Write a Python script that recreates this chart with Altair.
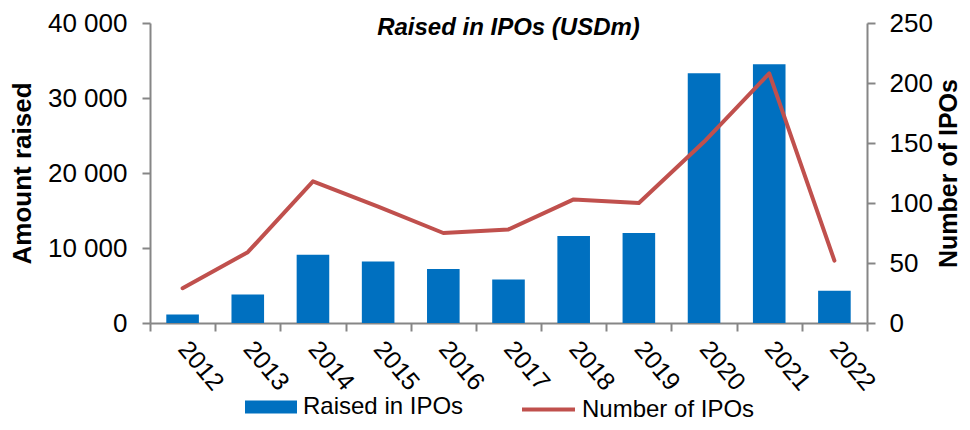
import altair as alt
import pandas as pd

years = ["2012", "2013", "2014", "2015", "2016", "2017", "2018", "2019", "2020", "2021", "2022"]
raised = [1150, 3800, 9100, 8200, 7200, 5800, 11600, 12000, 33300, 34500, 4300]
ipos = [29, 59, 118, 97, 75, 78, 103, 100, 151, 208, 52]

bar_name = "Raised in IPOs"
line_name = "Number of IPOs"
BLUE = "#0070C0"
RED = "#C0504D"
GRAY = "#868686"
FONT = "Liberation Sans"

df = pd.DataFrame({
    "year": years,
    "raised": raised,
    "ipos": ipos,
    "bar_series": [bar_name] * len(years),
    "line_series": [line_name] * len(years),
})

base = alt.Chart(df).encode(
    x=alt.X(
        "year:N",
        sort=years,
        scale=alt.Scale(paddingInner=0, paddingOuter=0),
        axis=alt.Axis(
            title=None,
            labelAngle=50,
            labelFontSize=25,
            labelColor="black",
            labelPadding=13,
            tickBand="extent",
            tickSize=8,
            tickWidth=2,
            tickColor=GRAY,
            domainColor=GRAY,
            domainWidth=2,
        ),
    )
)

bars = base.mark_bar(width=alt.RelativeBandSize(0.5)).encode(
    y=alt.Y(
        "raised:Q",
        scale=alt.Scale(domain=[0, 40000], nice=False),
        axis=alt.Axis(
            values=[0, 10000, 20000, 30000, 40000],
            labelExpr="replace(format(datum.value, ','), ',', ' ')",
            labelFontSize=26,
            labelColor="black",
            labelPadding=15,
            tickSize=8,
            tickWidth=2,
            tickColor=GRAY,
            domainColor=GRAY,
            domainWidth=2,
            grid=False,
            title="Amount raised",
            titleFontSize=26,
            titleFontWeight="bold",
            titleColor="black",
            titlePadding=12,
        ),
    ),
    fill=alt.Fill(
        "bar_series:N",
        scale=alt.Scale(domain=[bar_name], range=[BLUE]),
        legend=alt.Legend(
            title=None,
            orient="none",
            legendX=95,
            legendY=358,
            symbolType="M-1,-0.25H1V0.25H-1Z",
            symbolSize=2704,
            symbolStrokeWidth=0,
            labelFontSize=24,
            labelLimit=400,
            labelColor="black",
            labelOffset=6,
        ),
    ),
)

line = base.mark_line(strokeWidth=4, strokeCap="round", strokeJoin="round").encode(
    y=alt.Y(
        "ipos:Q",
        scale=alt.Scale(domain=[0, 250], nice=False),
        axis=alt.Axis(
            orient="right",
            values=[0, 50, 100, 150, 200, 250],
            labelFontSize=26,
            labelColor="black",
            labelPadding=14,
            tickSize=8,
            tickWidth=2,
            tickColor=GRAY,
            domainColor=GRAY,
            domainWidth=2,
            grid=False,
            title="Number of IPOs",
            titleAngle=270,
            titleBaseline="top",
            titleFontSize=25,
            titleFontWeight="bold",
            titleColor="black",
            titlePadding=4,
        ),
    ),
    stroke=alt.Stroke(
        "line_series:N",
        scale=alt.Scale(domain=[line_name], range=[RED]),
        legend=alt.Legend(
            title=None,
            orient="none",
            legendX=370,
            legendY=358,
            symbolType="stroke",
            symbolSize=2809,
            symbolStrokeWidth=4,
            labelFontSize=24,
            labelLimit=400,
            labelColor="black",
            labelOffset=5,
        ),
    ),
)

chart = (
    alt.layer(bars, line)
    .resolve_scale(y="independent", fill="independent", stroke="independent")
    .properties(
        width=717,
        height=300,
        title=alt.TitleParams(
            "Raised in IPOs (USDm)",
            fontSize=24,
            fontStyle="italic",
            fontWeight="bold",
            anchor="middle",
            color="black",
            dy=34,
        ),
        autosize=alt.AutoSizeParams(type="none"),
        padding={"left": 142, "top": 15, "right": 95, "bottom": 99},
    )
    .configure(font=FONT)
    .configure_view(stroke=None)
)

chart.save("out.html", embed_options={"renderer": "svg", "actions": False})
